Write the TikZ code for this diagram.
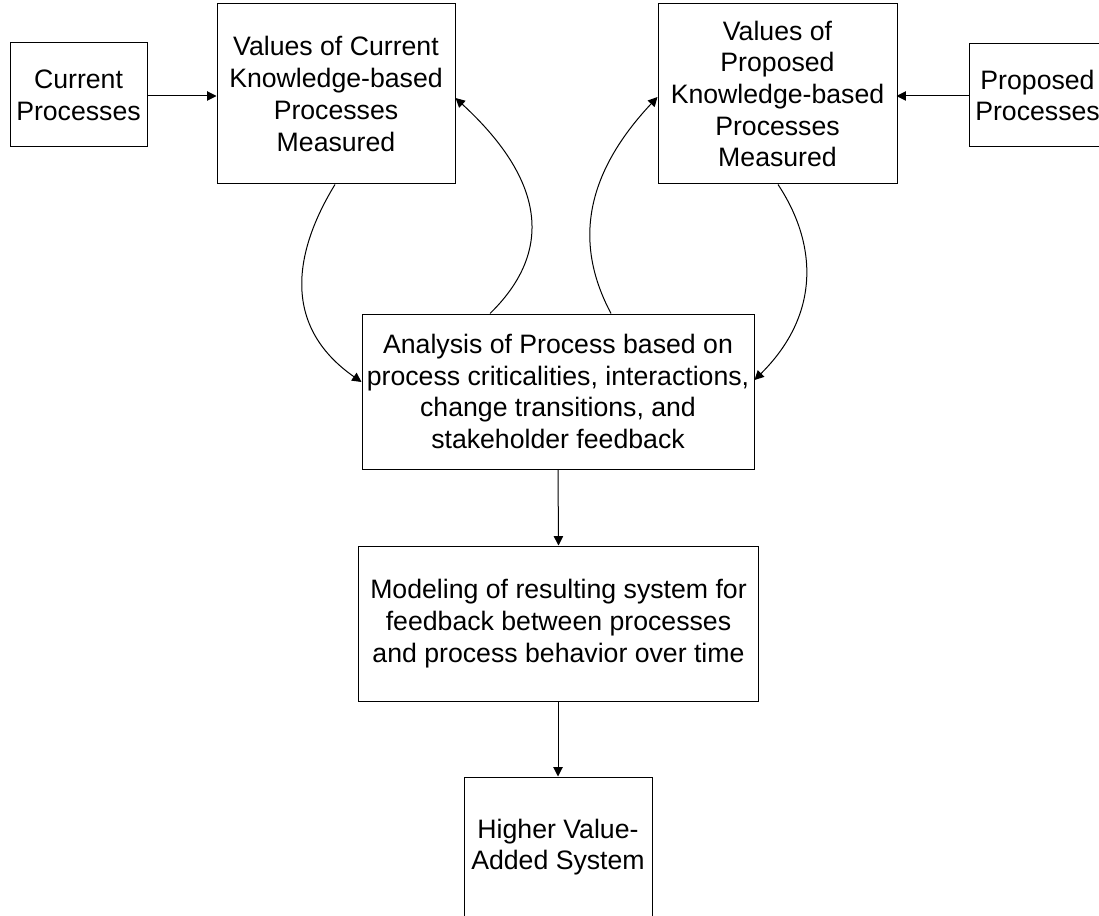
\documentclass[tikz,border=0pt]{standalone}
\usepackage{fontspec}
\setmainfont{Liberation Sans}
\usetikzlibrary{arrows.meta,calc}
\begin{document}
\begin{tikzpicture}[x=0.75pt,y=-0.75pt,
  box/.style={draw=black,line width=0.75pt,inner sep=0pt,align=center,
    font=\fontsize{20pt}{23.8pt}\selectfont},
  conn/.style={line width=0.75pt,-{Triangle[length=7pt,width=7pt]}}]
\useasboundingbox (0,0) rectangle (1099,916);
\node[box,minimum width=102.75pt,minimum height=78pt] (cur) at (78.5,95) {Current\\Processes};
\node[box,minimum width=178.5pt,minimum height=135pt] (vcur) at (336,94) {Values of Current\\Knowledge-based\\Processes\\Measured};
\node[box,minimum width=179.25pt,minimum height=135pt] (vprop) at (777.5,94) {Values of\\Proposed\\Knowledge-based\\Processes\\Measured};
\node[box,minimum width=102.75pt,minimum height=77.25pt] (prop) at (1037.5,95.5) {Proposed\\Processes};
\node[box,minimum width=294pt,minimum height=116.25pt] (ana) at (558,391.5) {Analysis of Process based on\\process criticalities, interactions,\\change transitions, and\\stakeholder feedback};
\node[box,minimum width=300pt,minimum height=116.25pt] (mod) at (558.5,623.5) {Modeling of resulting system for\\feedback between processes\\and process behavior over time};
\node[box,minimum width=141pt,minimum height=105pt] (hi) at (558,847) {Higher Value-\\Added System};

\draw[conn] ($(cur.east)+(0,1)$) -- ($(vcur.west)+(0,2)$);
\draw[conn] ($(prop.west)+(0,0.5)$) -- ($(vprop.west)+(239,2)$);
\draw[conn] (ana.south) -- (mod.south |- mod.north);
\draw[conn] ($(mod.south)+(-0.5,0)$) -- (hi.north);

\draw[conn] ($(vcur.south)+(-1,0)$) .. controls (295,250) and (280,325) .. ($(ana.west)+(0,-9.5)$);
\draw[conn] ($(ana.north)+(-68,0)$) .. controls (550,255) and (550,185) .. ($(vcur.east)+(0,4)$);
\draw[conn] ($(ana.north)+(53,0)$) .. controls (580,255) and (575,185) .. ($(vprop.west)+(0,3)$);
\draw[conn] ($(vprop.south)+(0.5,0)$) .. controls (818,245) and (820,315) .. ($(ana.east)+(0,-11.5)$);
\end{tikzpicture}
\end{document}
